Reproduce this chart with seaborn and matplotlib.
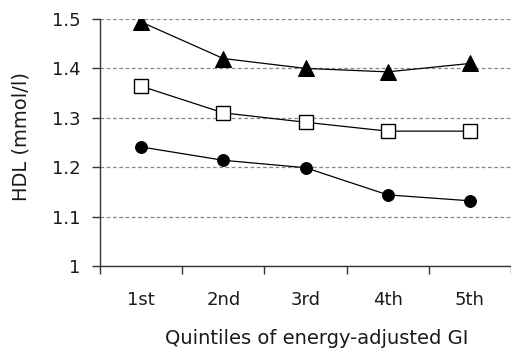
import matplotlib
matplotlib.use("Agg")
import matplotlib.pyplot as plt
import seaborn as sns
import pandas as pd
import numpy as np

quintiles = ["1st", "2nd", "3rd", "4th", "5th"]
triangle_vals = [1.494, 1.42, 1.40, 1.393, 1.41]
square_vals = [1.364, 1.31, 1.291, 1.273, 1.273]
circle_vals = [1.241, 1.214, 1.199, 1.144, 1.132]
y_ticks = [1.0, 1.1, 1.2, 1.3, 1.4, 1.5]
y_tick_labels = ["1", "1.1", "1.2", "1.3", "1.4", "1.5"]

sns.set_theme(style="white")
plt.rcParams["font.family"] = ["DejaVu Sans"]

fig = plt.figure(figsize=(5.11, 3.49), dpi=100)
ax = fig.add_axes([100 / 511, 1 - 266 / 349, 1.0 - 100 / 511, (266 - 19) / 349])

pos = np.arange(len(quintiles))
ax.yaxis.grid(True, linestyle=(0, (3, 2)), color="#888888", linewidth=0.9)
ax.set_axisbelow(True)

series = [
    (triangle_vals, dict(marker="^", markersize=11.5, markerfacecolor="black", markeredgecolor="black")),
    (square_vals, dict(marker="s", markersize=9.5, markerfacecolor="white", markeredgecolor="black", markeredgewidth=1.0)),
    (circle_vals, dict(marker="o", markersize=8.5, markerfacecolor="black", markeredgecolor="black")),
]
for vals, kw in series:
    df = pd.DataFrame({"q": pos, "hdl": vals})
    sns.lineplot(data=df, x="q", y="hdl", color="black", linewidth=0.9, ax=ax, **kw)

ax.set_xlim(-0.5, 4.5)
ax.set_ylim(1.0, 1.5)
ax.set_yticks(y_ticks)
ax.set_yticklabels(y_tick_labels)
ax.set_xticks(pos)
ax.set_xticklabels(quintiles)
ax.set_xticks(np.arange(-0.5, 5.0, 1.0), minor=True)
ax.tick_params(axis="x", which="major", length=0, pad=18, labelsize=13, colors="#1a1a1a")
ax.tick_params(axis="x", which="minor", length=6, width=1, color="#333333", direction="out", bottom=True)
ax.tick_params(axis="y", which="major", length=6, width=1, color="#333333", direction="out", left=True, pad=8, labelsize=13, labelcolor="#1a1a1a")

for s in ["top", "right"]:
    ax.spines[s].set_visible(False)
for s in ["left", "bottom"]:
    ax.spines[s].set_color("#333333")
    ax.spines[s].set_linewidth(1.0)

ax.set_xlabel("Quintiles of energy-adjusted GI", fontsize=14, color="#1a1a1a")
ax.xaxis.set_label_coords(0.528, -0.255)
ax.set_ylabel("HDL (mmol/l)", fontsize=14, color="#1a1a1a")
ax.yaxis.set_label_coords(-0.168, 0.524)

fig.savefig("out.png", dpi=100)
